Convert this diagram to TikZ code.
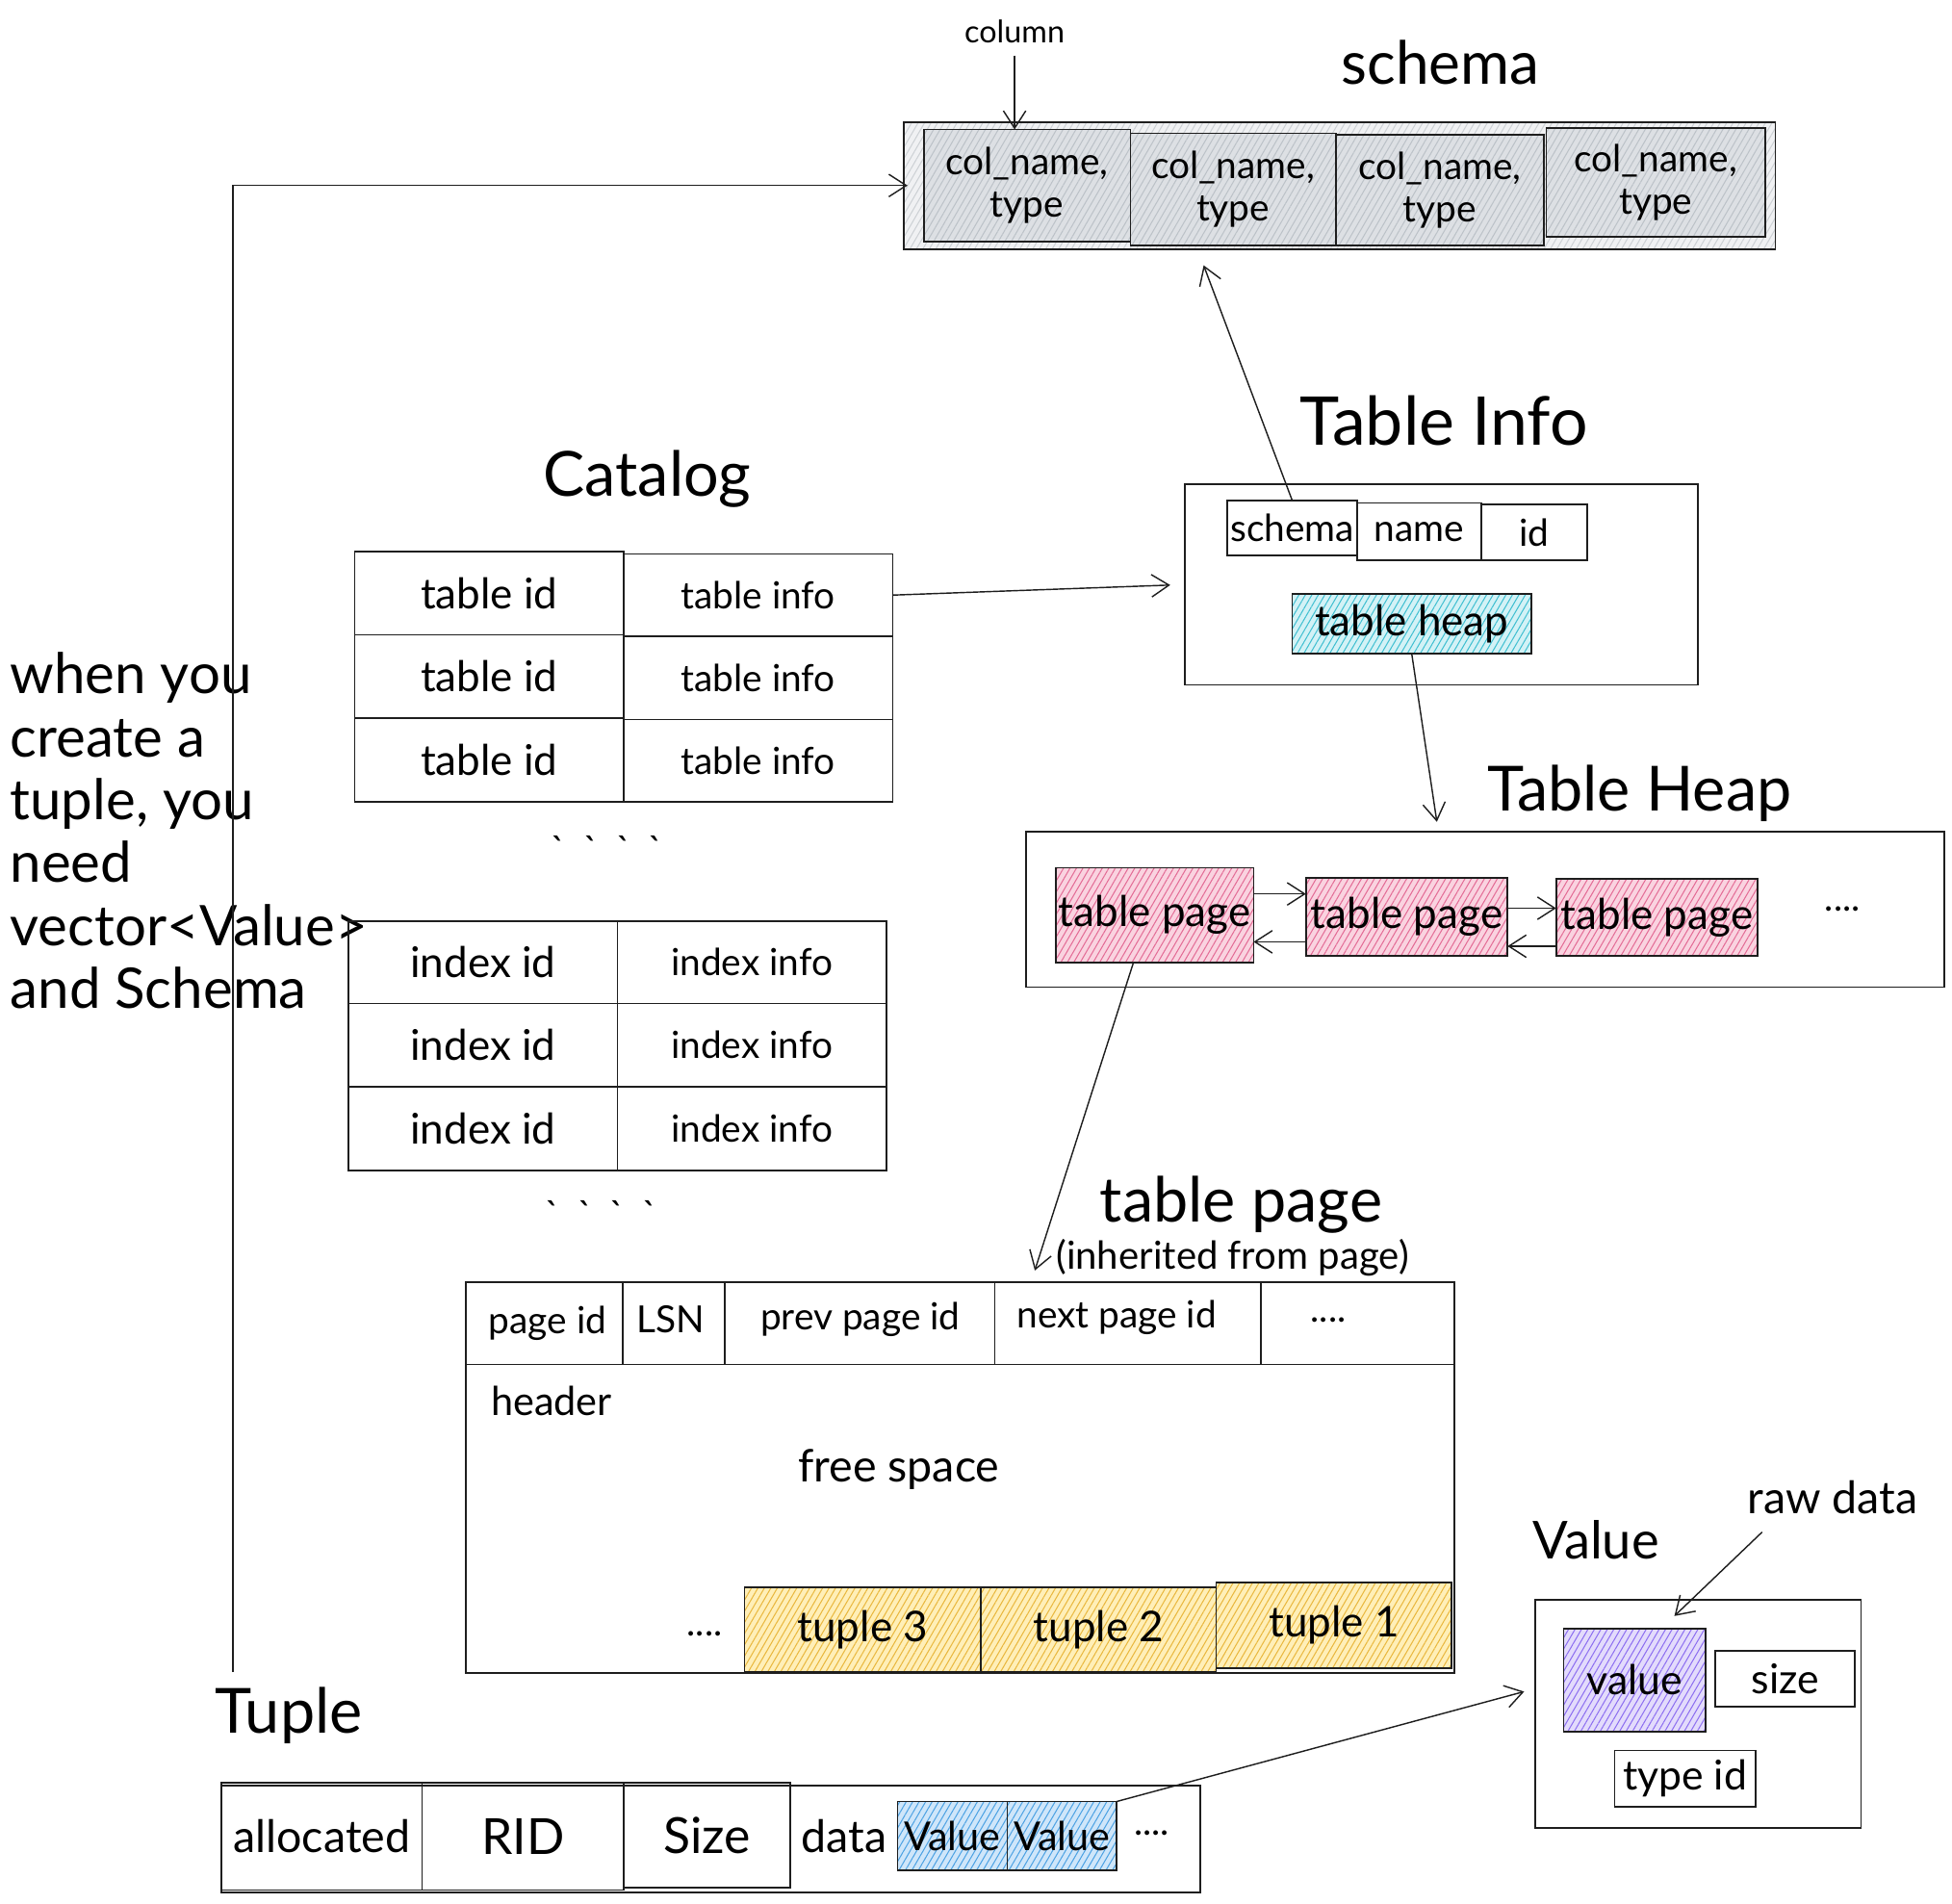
\documentclass[tikz,border=0pt]{standalone}
\usepackage{fontspec}
\setmainfont{Lato}
\usetikzlibrary{arrows.meta,patterns.meta,calc}
\definecolor{ink}{HTML}{1E1E1E}
\definecolor{grayA}{HTML}{F0F1F3}
\definecolor{grayAh}{HTML}{CDD1D5}
\definecolor{grayB}{HTML}{DDE0E4}
\definecolor{grayBh}{HTML}{BCC2C8}
\definecolor{cyanA}{HTML}{D3F2F6}
\definecolor{cyanAh}{HTML}{40BFD1}
\definecolor{pinkA}{HTML}{FAD3E0}
\definecolor{pinkAh}{HTML}{E36C96}
\definecolor{yelA}{HTML}{FFEFB8}
\definecolor{yelAh}{HTML}{E9B73E}
\definecolor{bluA}{HTML}{CFE6FA}
\definecolor{bluAh}{HTML}{4DA2E3}
\definecolor{purA}{HTML}{E3DBFC}
\definecolor{purAh}{HTML}{8D6FF0}
\tikzset{
  cell/.style 2 args={draw=ink, line width=1.3pt, inner sep=0pt, outer sep=0pt,
    minimum width=#1, minimum height=#2, align=center,
    font=\fontsize{30}{34}\selectfont},
  hatch/.style 2 args={preaction={fill=#1},
    preaction={pattern={Lines[angle=60,distance=4.5pt,line width=0.8pt]}, pattern color=#2}},
  title/.style={inner sep=0pt, font=\fontsize{50}{56}\selectfont},
  lbl/.style={inner sep=0pt, font=\fontsize{30}{35}\selectfont},
  big/.style={font=\fontsize{34}{40}\selectfont},
  arr/.style={draw=ink, line width=1.1pt,
    -{Straight Barb[length=14pt,width=18pt,line width=1.1pt]}},
}
\newcommand\gravedots{\textasciigrave\hspace{14pt}\textasciigrave\hspace{14pt}\textasciigrave\hspace{14pt}\textasciigrave}
\begin{document}
\begin{tikzpicture}[x=1pt,y=-1pt]
\fill[white] (0,0) rectangle (1568,1529);
\useasboundingbox (0,0) rectangle (1568,1529);

% ---------- schema ----------
\node[title, font=\fontsize{48}{54}\selectfont] (tschema) at (1157,50) {schema};
\node[lbl, font=\fontsize{25}{30}\selectfont] (column) at (815,25) {column};
\node[cell={700}{102}, hatch={grayA}{grayAh}] (schema) at (1076,149) {};
\node[cell={166}{90}, hatch={grayB}{grayBh}] (sc1) at (825,149) {col\_name,\\type};
\node[cell={165}{90}, hatch={grayB}{grayBh}] (sc2) at (990.5,152) {col\_name,\\type};
\node[cell={167}{89}, hatch={grayB}{grayBh}] (sc3) at (1156.5,152.5) {col\_name,\\type};
\node[cell={176}{87}, hatch={grayB}{grayBh}] (sc4) at (1330,146.5) {col\_name,\\type};
\draw[arr, shorten <=10pt] (column.south) -- (column.south |- sc1.north);

% ---------- left note ----------
\node[anchor=north west, align=left, inner sep=0pt,
      font=\fontsize{45}{50.5}\selectfont] (note) at (8,524)
  {when you\\create a\\tuple, you\\need\\vector<Value>\\and Schema};

% ---------- Table Info ----------
\node[title, font=\fontsize{54}{60}\selectfont] (ttinfo) at (1160,338) {Table Info};
\node[cell={412}{161}] (tibox) at (1158,469.5) {};
\node[cell={104}{44}] (tischema) at (1038,424) {schema};
\node[cell={100}{46}] (tiname) at (1140,427) {name};
\node[cell={85}{45}] (tiid) at (1232.5,427.5) {id};
\node[cell={192}{48}, big, hatch={cyanA}{cyanAh}] (theap) at (1134,501) {table heap};

% ---------- Catalog ----------
\node[title] (tcat) at (520,385) {Catalog};
\node[cell={216}{67}, big] (tid1) at (393,476.5) {table id};
\node[cell={216}{67}, big] (tid2) at (393,543.5) {table id};
\node[cell={216}{67}, big] (tid3) at (393,610.5) {table id};
\node[cell={216}{66}] (tin1) at (609,478) {table info};
\node[cell={216}{67}] (tin2) at (609,544.5) {table info};
\node[cell={216}{66}] (tin3) at (609,611) {table info};
\node[lbl] (dots1) at (488,682) {\gravedots};
\node[cell={216}{66}, big] (iid1) at (388,773) {index id};
\node[cell={216}{67}, big] (iid2) at (388,839.5) {index id};
\node[cell={216}{67}, big] (iid3) at (388,906.5) {index id};
\node[cell={216}{66}] (iin1) at (604,773) {index info};
\node[cell={216}{67}] (iin2) at (604,839.5) {index info};
\node[cell={216}{67}] (iin3) at (604,906.5) {index info};
\node[lbl] (dots2) at (483,975) {\gravedots};

% ---------- Table Heap ----------
\node[title] (ttheap) at (1317,637) {Table Heap};
\node[cell={738}{125}] (hbox) at (1193,730.5) {};
\node[cell={159}{76}, big, hatch={pinkA}{pinkAh}] (p1) at (927.5,735) {table page};
\node[cell={162}{63}, big, hatch={pinkA}{pinkAh}] (p2) at (1130,736.5) {table page};
\node[cell={162}{62}, big, hatch={pinkA}{pinkAh}] (p3) at (1331,737) {table page};
\node[lbl] (hdots) at (1480,730) {....};

% ---------- table page ----------
\node[title] (ttpage) at (997,968) {table page};
\node[lbl, font=\fontsize{31}{36}\selectfont] (tinh) at (990,1010) {(inherited from page)};
\node[cell={794}{314}] (tpbox) at (771,1187) {};
\node[cell={126}{66}] (hc1) at (437,1063) {};
\node[cell={82}{66}] (hc2) at (541,1063) {};
\node[cell={217}{66}] (hc3) at (690.5,1063) {};
\node[cell={214}{66}] (hc4) at (906,1063) {};
\node[cell={155}{66}] (hc5) at (1090.5,1063) {};
\node[lbl] at (440,1063) {page id};
\node[lbl] at (539,1060) {LSN};
\node[lbl] at (691,1060) {prev page id};
\node[lbl] at (897,1058) {next page id};
\node[lbl] (hcdots) at (1067,1060) {....};
\node[lbl, font=\fontsize{32}{37}\selectfont] (theader) at (443,1125) {header};
\node[lbl, big, font=\fontsize{36}{42}\selectfont] (tfree) at (722,1180) {free space};
\node[lbl] (tudots) at (566,1312) {....};
\node[cell={190}{68}, big, hatch={yelA}{yelAh}] (tu3) at (693,1309) {tuple 3};
\node[cell={189}{68}, big, hatch={yelA}{yelAh}] (tu2) at (882.5,1309) {tuple 2};
\node[cell={189}{69}, big, hatch={yelA}{yelAh}] (tu1) at (1071.5,1305.5) {tuple 1};

% ---------- Tuple ----------
\node[title] (ttuple) at (232,1378) {Tuple};
\node[cell={786}{86}] (tubox) at (571,1477) {};
\node[cell={161}{86}, font=\fontsize{36}{42}\selectfont] (talloc) at (258.5,1475) {allocated};
\node[cell={162}{86}, font=\fontsize{40}{46}\selectfont] (trid) at (420,1475) {RID};
\node[cell={134}{84}, font=\fontsize{40}{46}\selectfont] (tsize) at (568,1474) {Size};
\node[lbl, font=\fontsize{36}{42}\selectfont] (tdata) at (678,1475) {data};
\node[cell={88}{55}, font=\fontsize{32}{37}\selectfont, hatch={bluA}{bluAh}] (v1) at (765,1474.5) {Value};
\node[cell={88}{55}, font=\fontsize{32}{37}\selectfont, hatch={bluA}{bluAh}] (v2) at (853,1474.5) {Value};
\node[lbl] (tvdots) at (925,1472) {....};

% ---------- Value ----------
\node[title, font=\fontsize{42}{48}\selectfont] (tvalue) at (1282,1237) {Value};
\node[lbl, font=\fontsize{36}{42}\selectfont] (rawdata) at (1472,1203) {raw data};
\node[cell={262}{183}] (valbox) at (1364,1376.5) {};
\node[cell={114}{83}, font=\fontsize{33}{38}\selectfont, hatch={purA}{purAh}] (vval) at (1313,1349.5) {value};
\node[cell={112}{45}, font=\fontsize{33}{38}\selectfont] (vsize) at (1434,1348.5) {size};
\node[cell={113}{45}, font=\fontsize{33}{38}\selectfont] (vtype) at (1353.5,1428.5) {type id};

% ---------- connectors ----------
\coordinate (tstart) at (187,1343);
\draw[arr] (tstart) |- ([xshift=3pt]schema.west);
\draw[arr, shorten >=12pt] (tin1.east) -- (tibox.west);
\draw[arr, shorten >=14pt] (tischema.north) -- ($(schema.south west)!0.337!(schema.south east)$);
\draw[arr, shorten >=8pt] (theap.south) -- ($(hbox.north west)!0.449!(hbox.north east)$);
\draw[arr] ([yshift=17pt]p1.east) -- ([yshift=17pt]p1.east -| p2.west);
\draw[arr] ([yshift=-20pt]p2.west) -- ([yshift=-20pt]p2.west -| p1.east);
\draw[arr] ([yshift=7pt]p2.east) -- ([yshift=7pt]p2.east -| p3.west);
\draw[arr] ([yshift=-23pt]p3.west) -- ([yshift=-23pt]p3.west -| p2.east);
\draw[arr, shorten >=10pt] ([xshift=-17pt]p1.south) -- ($(tpbox.north west)!0.572!(tpbox.north east)$);
\draw[arr, shorten >=9pt] (v2.north east) -- ($(valbox.north west)!0.39!(valbox.south west)$);
\draw[arr] ($(rawdata.south west)+(12,14)$) -- ($(vval.north east)+(-25,-10)$);
\end{tikzpicture}
\end{document}
